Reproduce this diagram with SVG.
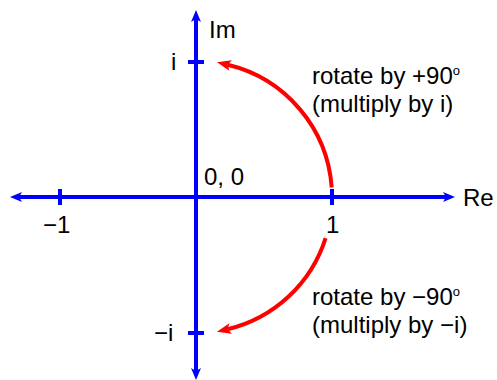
<svg xmlns="http://www.w3.org/2000/svg" width="497" height="380" viewBox="0 0 497 380">
<style>
.ax{stroke:#0000ff;stroke-width:4;fill:none}
.rot{stroke:#ff0000;stroke-width:4;fill:none;marker-end:url(#ra)}
text{font-family:"Liberation Sans",Arial,sans-serif;font-size:24px;fill:#000}
.sup{font-size:13px}
</style>
<defs>
<marker id="ba" markerUnits="userSpaceOnUse" markerWidth="13" markerHeight="12" refX="3" refY="5" orient="auto-start-reverse" viewBox="0 0 13 10" overflow="visible">
<path d="M0,0 L12,5 L0,10 L3,5 z" fill="#0000ff"/>
</marker>
<marker id="ra" markerUnits="userSpaceOnUse" markerWidth="15" markerHeight="12" refX="3" refY="5.5" orient="auto" viewBox="0 0 15 11" overflow="visible">
<path d="M0,0 L14,5.5 L0,11 L3,5.5 z" fill="#ff0000"/>
</marker>
</defs>
<g id="axes">
<line id="re-axis" class="ax" x1="446" y1="197" x2="19" y2="197" marker-start="url(#ba)" marker-end="url(#ba)"/>
<line id="im-axis" class="ax" x1="196" y1="371" x2="196" y2="19" marker-start="url(#ba)" marker-end="url(#ba)"/>
</g>
<g id="ticks" class="ax">
<line x1="60" y1="189" x2="60" y2="205"/>
<line x1="332" y1="189" x2="332" y2="205"/>
<line x1="188" y1="62" x2="204" y2="62"/>
<line x1="188" y1="333" x2="204" y2="333"/>
</g>
<g id="connectors">
<path id="rot-plus" class="rot" d="M331.7,187.5 A136,136 0 0 0 227.7,64.8"/>
<path id="rot-minus" class="rot" d="M325.6,238.1 A136,136 0 0 1 227.7,329.2"/>
</g>
<g id="labels">
<text x="209" y="38">Im</text>
<text x="171" y="70">i</text>
<text x="43" y="233">−1</text>
<text x="326" y="233">1</text>
<text x="204" y="185">0, 0</text>
<text x="463" y="206">Re</text>
<text x="154" y="341">−i</text>
</g>
<g id="note-plus">
<text x="312" y="84">rotate by +90<tspan class="sup" dy="-9">o</tspan></text>
<text x="312" y="112">(multiply by i)</text>
</g>
<g id="note-minus">
<text x="312" y="305">rotate by −90<tspan class="sup" dy="-9">o</tspan></text>
<text x="312" y="333">(multiply by −i)</text>
</g>
</svg>
